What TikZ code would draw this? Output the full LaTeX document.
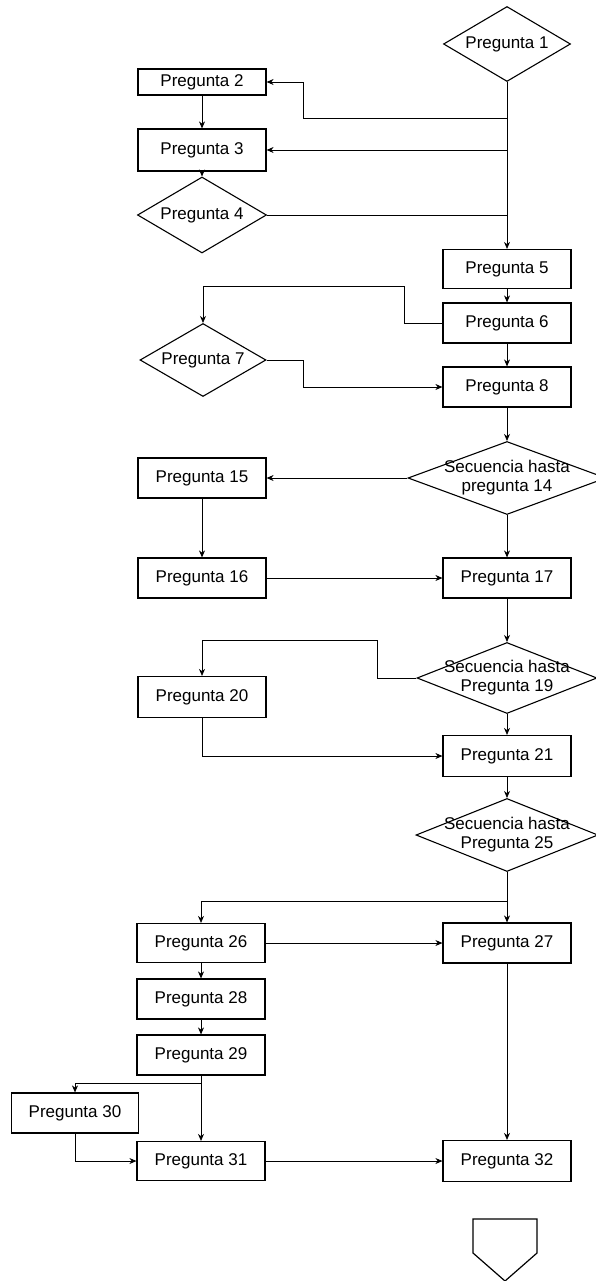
\documentclass[tikz,border=0pt]{standalone}
\usepackage{fontspec}
\setmainfont{Liberation Sans}
\usetikzlibrary{arrows.meta,shapes.geometric}
\begin{document}
\begin{tikzpicture}[x=1pt,y=-1pt,
  txt/.style={font=\fontsize{17}{19}\selectfont,align=center},
  box/.style={draw,line width=1.2pt,minimum width=128pt,minimum height=40pt,inner sep=0pt,txt},
  decision/.style={draw,diamond,line width=1.1pt,inner sep=0pt},
  link/.style={line width=0.7pt,-{Stealth[length=7pt,width=6pt]}},
  joinline/.style={line width=0.7pt}
]
\useasboundingbox (0,0) rectangle (596,1281);
\clip (0,0) rectangle (596,1281);

% right column
\node[decision,minimum width=127pt,minimum height=75pt,label={[txt]center:Pregunta 1}] (p1) at (507,44) {};
\node[box,minimum height=39pt] (p5) at (507,269) {Pregunta 5};
\node[box] (p6) at (507,323) {Pregunta 6};
\node[box] (p8) at (507,387) {Pregunta 8};
\node[decision,minimum width=198pt,minimum height=73pt,label={[txt]center:Secuencia hasta\\pregunta 14}] (d14) at (507,478) {};
\node[box] (p17) at (507,578) {Pregunta 17};
\node[decision,minimum width=180pt,minimum height=71pt,label={[txt]center:Secuencia hasta\\Pregunta 19}] (d19) at (507,678) {};
\node[box,minimum height=41pt] (p21) at (507,756) {Pregunta 21};
\node[decision,minimum width=182pt,minimum height=73pt,label={[txt]center:Secuencia hasta\\Pregunta 25}] (d25) at (507,835) {};
\node[box] (p27) at (507,943) {Pregunta 27};
\node[box,minimum height=41pt] (p32) at (507,1161) {Pregunta 32};

% left column
\node[box,minimum height=26pt] (p2) at (202,82) {Pregunta 2};
\node[box,minimum height=42pt] (p3) at (202,150) {Pregunta 3};
\node[decision,minimum width=129pt,minimum height=76pt,label={[txt]center:Pregunta 4}] (p4) at (202,215) {};
\node[decision,minimum width=126pt,minimum height=73pt,label={[txt]center:Pregunta 7}] (p7) at (203,360) {};
\node[box] (p15) at (202,478) {Pregunta 15};
\node[box] (p16) at (202,578) {Pregunta 16};
\node[box,minimum height=41pt] (p20) at (202,697) {Pregunta 20};
\node[box,minimum height=39pt] (p26) at (201,943) {Pregunta 26};
\node[box] (p28) at (201,999) {Pregunta 28};
\node[box] (p29) at (201,1055) {Pregunta 29};
\node[box,minimum height=39pt] (p31) at (201,1161) {Pregunta 31};
\node[box,minimum width=127pt] (p30) at (75,1113) {Pregunta 30};

% off-page connector
\draw[line width=1.2pt] (473,1253) -- (473,1219) -- (537,1219) -- (537,1253) -- (505,1281) -- cycle;

% branch points
\coordinate (fork2) at (507,118);
\coordinate (fork25) at (507,901);
\coordinate (fork29) at (201,1083);

% connectors
\draw[link] (p1.south) -- (p5.north);
\draw[link] (fork2) -- ++(-204,0) |- (p2.east);
\draw[link] (p1.south |- p3.east) -- (p3.east);
\draw[link] (p2.south) -- (p3.north);
\draw[link] (p3.south) -- (p4.north);
\draw[joinline] (p4.east) -- (p4.east -| p1.south);
\draw[link] (p5.south) -- (p6.north);
\draw[link] (p6.west) -- ++(-38,0) -- ++(0,-37) -| (p7.north);
\draw[link] (p6.south) -- (p8.north);
\draw[link] (p7.east) -- ++(37,0) |- (p8.west);
\draw[link] (p8.south) -- (d14.north);
\draw[link] (d14.west) -- (p15.east);
\draw[link] (d14.south) -- (p17.north);
\draw[link] (p15.south) -- (p16.north);
\draw[link] (p16.east) -- (p17.west);
\draw[link] (p17.south) -- (d19.north);
\draw[link] (d19.west) -- ++(-39,0) -- ++(0,-38) -| (p20.north);
\draw[link] (d19.south) -- (p21.north);
\draw[link] (p20.south) |- (p21.west);
\draw[link] (p21.south) -- (d25.north);
\draw[link] (d25.south) -- (p27.north);
\draw[link] (fork25) -| (p26.north);
\draw[link] (p26.east) -- (p27.west);
\draw[link] (p26.south) -- (p28.north);
\draw[link] (p28.south) -- (p29.north);
\draw[link] (p29.south) -- (p31.north);
\draw[link] (fork29) -| (p30.north);
\draw[link] (p30.south) |- (p31.west);
\draw[link] (p31.east) -- (p32.west);
\draw[link] (p27.south) -- (p32.north);
\end{tikzpicture}
\end{document}
